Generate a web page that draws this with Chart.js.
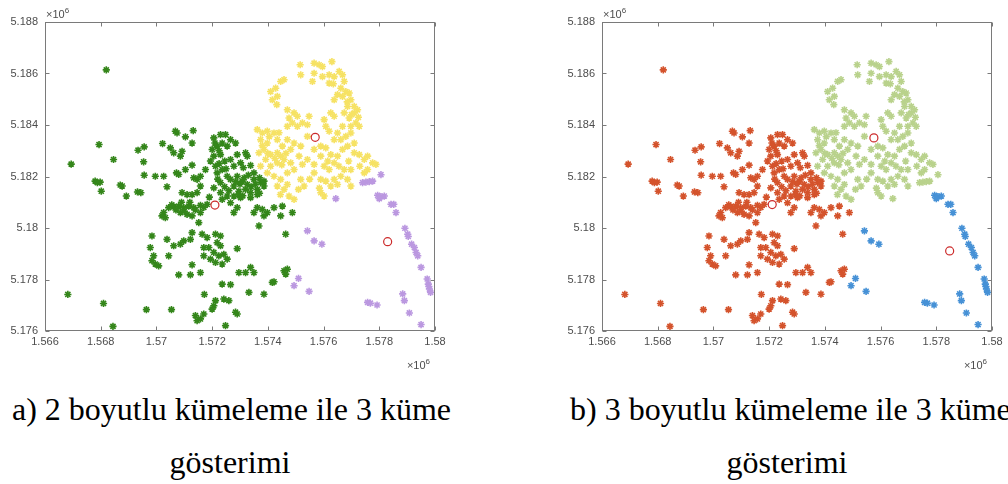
<!DOCTYPE html>
<html lang="tr">
<head>
<meta charset="utf-8">
<title>Kümeleme</title>
<script src="https://cdn.jsdelivr.net/npm/chart.js@4.4.1/dist/chart.umd.min.js"></script>
<style>
  html, body { margin: 0; padding: 0; background: #fff; width: 1008px; height: 484px; overflow: hidden; }
  .plot { position: absolute; top: 0; }
  .caption {
    position: absolute;
    font-family: "Liberation Serif", "Times New Roman", serif;
    font-size: 32px;
    line-height: 32px;
    color: #000;
    white-space: nowrap;
  }
</style>
</head>
<body>
<canvas id="chart2d" class="plot" width="480" height="380" style="left:0"></canvas>
<canvas id="chart3d" class="plot" width="451" height="380" style="left:557px"></canvas>

<div class="caption" style="left:12px;top:393px">a) 2 boyutlu kümeleme ile 3 küme</div>
<div class="caption" style="left:130px;top:446px;width:200px;text-align:center">gösterimi</div>
<div class="caption" style="left:570px;top:393px">b) 3 boyutlu kümeleme ile 3 küme</div>
<div class="caption" style="left:687px;top:446px;width:200px;text-align:center">gösterimi</div>

<script>
"use strict";

//Nokta koordinatları (metre), bölgelere göre [x, y]
const westPoints = [
  [1568200,5186140],[1566940,5182480],[1566820,5177420],[1568100,5177070],[1568440,5176180],
  [1567940,5183240],[1567800,5181820],[1567880,5181760],[1567980,5181780],[1568020,5181430],
  [1568460,5182660],[1568700,5181670],[1568770,5181630],[1568920,5181240],[1569320,5181400],
  [1569440,5181370],[1569340,5183020],[1569560,5183150],[1569540,5182570],[1569560,5182050],
  [1569960,5182010],[1570260,5182010],[1569640,5176830],[1570540,5176830],[1570220,5183280],
  [1570500,5183110],[1570620,5182920],[1570680,5183760],[1570740,5183690],[1571040,5183540],
  [1571320,5183780],[1570920,5182980],[1570860,5182790],[1571280,5183300],[1570720,5182140],
  [1570800,5182080],[1571040,5182270],[1571280,5182440],[1571340,5181950],[1571460,5181890],
  [1570380,5181600],[1570920,5181370],[1571100,5181300],[1571280,5181300],[1571460,5181370],
  [1571580,5181630],
  [1570440,5180790],[1570620,5180830],[1570800,5180850],[1570980,5180790],[1571160,5180850],
  [1571340,5180790],[1571580,5180880],[1571820,5180920],[1570860,5180600],[1571100,5180530],
  [1571280,5180470],[1571580,5180600],[1570260,5180600],[1570200,5180470],[1570320,5180400],
  [1571520,5180210],[1570700,5180700],[1571000,5180650],[1571400,5180700],[1570550,5180900],
  [1571200,5181000],[1571700,5180800],[1570900,5181000],[1571900,5181200],
  [1572060,5183500],[1572300,5183630],[1572480,5183630],[1572180,5183180],[1572360,5183300],
  [1572540,5183180],[1572060,5182790],[1572300,5182850],[1571940,5182600],[1572120,5182400],
  [1572360,5182270],[1572180,5182140],[1571760,5182270],[1571580,5182010],[1572660,5183430],
  [1572840,5183300],[1572900,5182850],[1572660,5182660],[1572780,5182400],[1573020,5182530],
  [1573200,5182920],[1573260,5182790],[1573120,5182340],[1573380,5182430],[1573500,5182140],
  [1572250,5183000],[1572450,5182600],[1572100,5183300],[1572250,5182500],[1572500,5182300],
  [1572000,5183050],
  [1572660,5181890],[1572900,5182010],[1573080,5181820],[1573260,5181690],[1573500,5181890],
  [1573740,5181760],[1573860,5181630],[1572780,5181630],[1572960,5181430],[1573200,5181500],
  [1573380,5181370],[1573620,5181500],[1573860,5181820],[1572780,5181240],[1572540,5181240],
  [1572360,5181110],[1572660,5180980],[1573020,5181180],[1573380,5181180],[1573620,5181300],
  [1572300,5181370],[1572060,5181560],[1572300,5181760],[1572540,5182010],[1573000,5181700],
  [1573400,5181600],[1573150,5181950],[1572850,5181800],[1573550,5181700],[1573700,5181950],
  [1572450,5181600],[1572950,5181300],[1572600,5181450],[1573100,5181250],[1573300,5182050],
  [1572200,5181900],[1573700,5181350],
  [1572900,5180790],[1572780,5180600],[1573620,5180790],[1573800,5180720],[1573500,5180600],
  [1573980,5180600],[1573860,5180470],[1573680,5180080],[1574220,5180790],[1574520,5180850],
  [1574460,5180470],[1574880,5180600],[1574640,5179760],
  [1569840,5179690],[1569780,5179240],[1569900,5178920],[1569840,5178730],[1569960,5178600],
  [1570080,5178530],[1570380,5179560],[1570440,5178920],[1570620,5179310],[1570860,5179370],
  [1570980,5179500],[1571280,5179820],[1571220,5179560],[1571640,5179760],[1571820,5179630],
  [1571700,5179240],[1571880,5179240],[1571700,5178920],[1572120,5179760],[1572300,5179690],
  [1572180,5179430],[1572300,5179310],[1572060,5179050],[1572240,5178920],[1572420,5178980],
  [1572120,5178660],[1572360,5178600],[1572540,5178790],[1571940,5178790],[1572900,5179200],
  [1571280,5178570],[1570800,5178180],[1571220,5178180],[1571580,5178270],[1572360,5177820],
  [1572660,5177800],[1571720,5177420],[1573320,5177500],[1573860,5177430],[1572960,5178270],
  [1573200,5178270],[1573380,5178470],[1573500,5178270],[1574580,5178340],[1574700,5178400],
  [1574640,5178210],[1574220,5177910],[1574160,5177890],[1572060,5176980],[1572000,5176850],
  [1572120,5177180],[1572420,5177240],[1572600,5177180],[1571400,5176600],[1571460,5176400],
  [1571580,5176470],[1571700,5176660],[1572480,5176210],[1572900,5176660],[1572840,5176730]
];

const northPoints = [
  [1575160,5186340],[1575180,5185950],[1575660,5186400],[1575840,5186340],[1575960,5186270],
  [1576300,5186460],[1575660,5186010],[1575600,5185690],[1575960,5185880],[1576200,5185950],
  [1576380,5185880],[1576560,5186080],[1576680,5185950],[1576740,5185690],[1576200,5185630],
  [1576620,5185430],[1576500,5185180],[1576380,5184980],[1576680,5185110],[1576920,5185240],
  [1576980,5184980],[1577100,5184720],[1576860,5184720],[1576740,5184470],[1577100,5184470],
  [1577220,5184590],[1576920,5184270],[1576980,5183950],[1577160,5184080],[1577280,5183950],
  [1576680,5183950],[1576500,5183690],[1576380,5184340],[1576260,5184470],[1576020,5184210],
  [1576080,5183950],[1576200,5183760],[1576380,5183430],[1576620,5183430],[1576800,5183560],
  [1576980,5183690],[1577100,5183300],[1576850,5184900],[1577000,5184400],[1576800,5185300],
  [1577250,5184300],[1576350,5185600],
  [1574100,5185300],[1574280,5185430],[1574460,5185690],[1574580,5185760],[1574160,5184980],
  [1574340,5185110],[1574320,5184790],
  [1574700,5184590],[1574940,5184470],[1574760,5184270],[1575060,5184340],[1574880,5184080],
  [1574700,5183950],[1575060,5183950],[1575240,5184080],[1575420,5184010],[1575480,5184340],
  [1575180,5183180],[1575420,5183560],[1575660,5183050],[1575900,5183180],[1576080,5183110],
  [1573620,5183820],[1573800,5183690],[1573980,5183760],[1574220,5183690],[1573740,5183430],
  [1573980,5183300],[1574340,5183430],[1574520,5183180],[1573680,5182920],[1573860,5183050],
  [1574100,5182850],[1574340,5182920],[1573920,5182660],[1574100,5182400],[1574340,5182530],
  [1574580,5182660],[1573740,5182400],[1573980,5182140],[1574220,5182010],[1574460,5181890],
  [1574700,5182140],[1574940,5182270],[1574820,5182530],[1575120,5182790],[1575240,5182470],
  [1575420,5182660],[1575660,5182470],[1575900,5182790],[1576020,5182400],[1576200,5182270],
  [1576380,5182530],[1576500,5182790],[1576260,5182850],[1576680,5183050],[1576860,5183180],
  [1577100,5182920],[1577280,5182850],[1577460,5182660],[1577580,5182790],[1577760,5182530],
  [1577880,5182470],[1577580,5182270],[1573800,5183200],[1574000,5182900],[1574250,5182700],
  [1574500,5182450],[1574650,5182900],[1574050,5183550],[1574400,5183700],[1576150,5182600],
  [1576550,5182400],[1576900,5182600],[1577300,5182400],
  [1574340,5181630],[1574580,5181500],[1574760,5181240],[1574940,5181110],[1574700,5181690],
  [1575180,5181890],[1575300,5181630],[1575660,5182140],[1575900,5181890],[1576080,5181820],
  [1575900,5181370],[1576020,5181240],[1576260,5181630],[1576500,5181690],[1576380,5181890],
  [1576620,5182010],[1576860,5181890],[1576980,5181630],[1576740,5182270],[1576980,5182270],
  [1577460,5182140],[1575500,5181900],[1575100,5181500],[1574450,5181300],[1575850,5181550],
  [1574460,5182790],[1574820,5183050],[1574700,5183430],[1574940,5183300]
];

const eastPoints = [
  [1577940,5181270],[1578060,5181220],[1578180,5181240],[1578000,5181140],[1578420,5180920],
  [1578520,5180920],[1578600,5180600],[1578920,5179990],[1579020,5179760],[1579040,5179670],
  [1579160,5179370],[1579260,5179240],[1579320,5179050],[1579380,5178920],[1579500,5178470],
  [1579720,5178020],[1579760,5177820],[1579780,5177730],[1579800,5177630],[1579840,5177500],
  [1578840,5177440],[1578900,5177180],[1579080,5176700],[1579500,5176250],[1577580,5177110],
  [1577680,5177080],[1577920,5177010],[1575420,5179890],[1575660,5179500],[1575940,5179370],
  [1574940,5177760],[1575100,5178040],[1575480,5177540]
];

//2B'de doğu kümesinde, 3B'de kuzey kümesinde kalan noktalar
const borderPoints = [
  [1577400,5181760],[1577520,5181780],[1577640,5181800],[1577760,5181820],[1578060,5182070],
  [1576440,5181140]
];

//Küme merkezleri (batı, kuzey, doğu)
const centers2d = [[1572100,5180890],[1575700,5183520],[1578300,5179470]];
const centers3d = [[1572110,5180910],[1575760,5183500],[1578480,5179110]];

//Eksen sınırları
const xLimits = [1566000, 1580000];
const yLimits = [5176000, 5188000];
const tickStep = 2000;

const colors2d = ["#34861a", "#f6e264", "#bb98e0"];
const colors3d = ["#d4532c", "#b9d28c", "#4691d6"];
const centerColor = "#cc2b2b";
const axisColor = "#7a7a7a";
const labelColor = "#4d4d4d";
const labelFont = "Liberation Sans, Arial, sans-serif";

function toXY(points) {
  return points.map(function (p) {
    return { x: p[0], y: p[1] };
  });
}

//Tik etiketleri ×10^6 biriminde
function tickLabel(value) {
  return String(parseFloat((value / 1e6).toFixed(3)));
}

//"×10^6" yazısı
function drawExponent(ctx, x, y, align) {
  ctx.font = "11px " + labelFont;
  const base = "\u00d710";
  const wBase = ctx.measureText(base).width;
  ctx.font = "8px " + labelFont;
  const wSup = ctx.measureText("6").width;
  const x0 = align === "right" ? x - wBase - wSup : x;
  ctx.textAlign = "left";
  ctx.textBaseline = "alphabetic";
  ctx.font = "11px " + labelFont;
  ctx.fillText(base, x0, y);
  ctx.font = "8px " + labelFont;
  ctx.fillText("6", x0 + wBase, y - 5);
}

//Kutu çerçevesi, içe dönük tikler ve çarpan yazıları
const axesFrame = {
  id: "axesFrame",
  afterDraw(chart) {
    const ctx = chart.ctx;
    const a = chart.chartArea;
    const l = Math.round(a.left) + 0.5;
    const r = Math.round(a.right) - 0.5;
    const t = Math.round(a.top) + 0.5;
    const b = Math.round(a.bottom) - 0.5;
    ctx.save();
    ctx.strokeStyle = axisColor;
    ctx.lineWidth = 1;
    ctx.strokeRect(l, t, r - l, b - t);
    ctx.beginPath();
    chart.scales.x.ticks.forEach(function (tk) {
      const px = Math.round(chart.scales.x.getPixelForValue(tk.value)) + 0.5;
      ctx.moveTo(px, b);
      ctx.lineTo(px, b - 4);
      ctx.moveTo(px, t);
      ctx.lineTo(px, t + 4);
    });
    chart.scales.y.ticks.forEach(function (tk) {
      const py = Math.round(chart.scales.y.getPixelForValue(tk.value)) + 0.5;
      ctx.moveTo(l, py);
      ctx.lineTo(l + 4, py);
      ctx.moveTo(r, py);
      ctx.lineTo(r - 4, py);
    });
    ctx.stroke();
    ctx.fillStyle = labelColor;
    drawExponent(ctx, a.left + 1, a.top - 4, "left");
    drawExponent(ctx, a.right - 5, a.bottom + 38, "right");
    ctx.restore();
  },
};

function starSet(points, color) {
  return {
    data: toXY(points),
    pointStyle: "star",
    pointRadius: 3.6,
    pointBorderWidth: 1.6,
    pointBorderColor: color,
    pointBackgroundColor: color,
    showLine: false,
  };
}

function centerSet(points) {
  return {
    data: toXY(points),
    pointStyle: "circle",
    pointRadius: 4,
    pointBorderWidth: 1.2,
    pointBorderColor: centerColor,
    pointBackgroundColor: "rgba(0,0,0,0)",
    showLine: false,
  };
}

function axisOptions(limits, fit) {
  return {
    type: "linear",
    min: limits[0],
    max: limits[1],
    grid: { display: false, drawTicks: false },
    border: { display: false },
    ticks: {
      stepSize: tickStep,
      autoSkip: false,
      maxRotation: 0,
      color: labelColor,
      font: { family: labelFont, size: 11 },
      callback: tickLabel,
    },
    afterFit: fit,
  };
}

function makeChart(id, datasets, rightPad) {
  const xAxis = axisOptions(xLimits, function (s) { s.height = 49; });
  xAxis.ticks.padding = 4;
  const yAxis = axisOptions(yLimits, function (s) { s.width = 45; });
  yAxis.ticks.padding = 7;

  new Chart(document.getElementById(id), {
    type: "scatter",
    data: { datasets: datasets },
    options: {
      responsive: false,
      animation: false,
      devicePixelRatio: 1,
      layout: { padding: { top: 22, right: rightPad, left: 0, bottom: 0 } },
      scales: { x: xAxis, y: yAxis },
      plugins: { legend: { display: false }, tooltip: { enabled: false } },
    },
    plugins: [axesFrame],
  });
}

//a) 2 boyutlu kümeleme
makeChart("chart2d", [
  centerSet(centers2d),
  starSet(westPoints, colors2d[0]),
  starSet(northPoints, colors2d[1]),
  starSet(eastPoints.concat(borderPoints), colors2d[2]),
], 45);

//b) 3 boyutlu kümeleme
makeChart("chart3d", [
  centerSet(centers3d),
  starSet(westPoints, colors3d[0]),
  starSet(northPoints.concat(borderPoints), colors3d[1]),
  starSet(eastPoints, colors3d[2]),
], 16);
</script>
</body>
</html>
